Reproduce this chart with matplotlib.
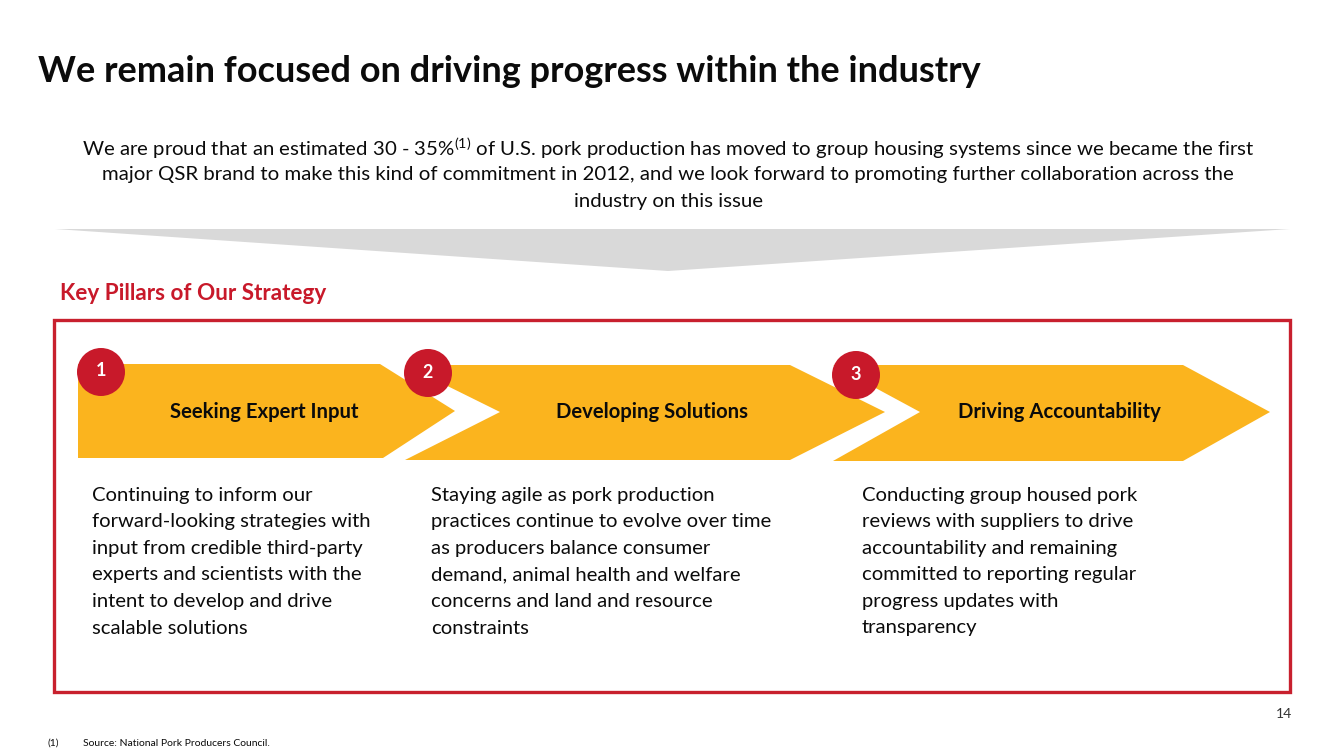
import matplotlib
matplotlib.use("Agg")
import matplotlib.pyplot as plt
from matplotlib.patches import Polygon, Circle, Rectangle

FONT = "Lato"
plt.rcParams["font.family"] = [FONT, "DejaVu Sans"]
plt.rcParams["mathtext.fontset"] = "custom"
plt.rcParams["mathtext.rm"] = FONT

ORANGE = "#fbb41e"
RED = "#c8192a"
BOX_RED = "#c8202e"
GREY = "#d9d9d9"
INK = "#0b0b0b"

TITLE = "We remain focused on driving progress within the industry"
INTRO_LINES = [
    r"We are proud that an estimated 30 - 35%$^{(1)}$ of U.S. pork production has moved to group housing systems since we became the first",
    "major QSR brand to make this kind of commitment in 2012, and we look forward to promoting further collaboration across the",
    "industry on this issue",
]
SECTION = "Key Pillars of Our Strategy"
PILLAR_NUMBERS = ["1", "2", "3"]
PILLAR_NAMES = ["Seeking Expert Input", "Developing Solutions", "Driving Accountability"]
PILLAR_TEXT = [
    ["Continuing to inform our", "forward-looking strategies with",
     "input from credible third-party", "experts and scientists with the",
     "intent to develop and drive", "scalable solutions"],
    ["Staying agile as pork production", "practices continue to evolve over time",
     "as producers balance consumer", "demand, animal health and welfare",
     "concerns and land and resource", "constraints"],
    ["Conducting group housed pork", "reviews with suppliers to drive",
     "accountability and remaining", "committed to reporting regular",
     "progress updates with", "transparency"],
]
PAGE = "14"
FOOTNOTE_MARK = "(1)"
FOOTNOTE = "Source: National Pork Producers Council."

fig = plt.figure(figsize=(13.33, 7.5), dpi=100)
ax = fig.add_axes([0, 0, 1, 1])
ax.set_xlim(0, 1333)
ax.set_ylim(750, 0)
ax.axis("off")

# title and intro
ax.text(38, 72, TITLE, fontsize=26, fontweight="bold", color=INK, va="center", ha="left")
for i, line in enumerate(INTRO_LINES):
    ax.text(668, 148 + i * 26.5, line, fontsize=14.7, color=INK, ha="center", va="center")

# grey funnel under the intro
ax.add_patch(Polygon([(55, 229), (1290, 229), (668, 271)], closed=True,
                     facecolor=GREY, edgecolor="none"))

ax.text(60, 294, SECTION, fontsize=16.2, fontweight="bold", color=RED, va="center", ha="left")

# outline box
ax.add_patch(Rectangle((54, 320), 1236, 372, facecolor="none", edgecolor=BOX_RED, linewidth=2.4))

# chevrons (first one is a plain pentagon)
shapes = [
    [(78, 364), (380, 364), (455, 411), (383, 458), (78, 458)],
    [(405, 365), (790, 365), (885, 412), (790, 460), (405, 460), (500, 412)],
    [(833, 365), (1183, 365), (1270, 412), (1183, 461), (833, 461), (920, 412)],
]
label_x = [264, 652, 1059]
circle_xy = [(101, 372), (428, 373), (856, 375)]
text_x = [92, 431, 862]

for shape in shapes:
    ax.add_patch(Polygon(shape, closed=True, facecolor=ORANGE, edgecolor="none"))

for num, name, lx, (cx, cy) in zip(PILLAR_NUMBERS, PILLAR_NAMES, label_x, circle_xy):
    ax.add_patch(Circle((cx, cy), 24, facecolor=RED, edgecolor="none", zorder=3))
    ax.text(cx, cy - 1, num, fontsize=13, fontweight="bold", color="white",
            ha="center", va="center", zorder=4)
    ax.text(lx, 412, name, fontsize=14.6, fontweight="bold", color=INK, ha="center", va="center")

for tx, lines in zip(text_x, PILLAR_TEXT):
    for j, line in enumerate(lines):
        ax.text(tx, 495 + j * 26.6, line, fontsize=14.6, color=INK, ha="left", va="center")

ax.text(1284, 714, PAGE, fontsize=10, color="#333333", ha="center", va="center")
ax.text(47, 743, FOOTNOTE_MARK, fontsize=7.5, color=INK, ha="left", va="center")
ax.text(83, 743, FOOTNOTE, fontsize=7.5, color=INK, ha="left", va="center")

fig.savefig("out.png", dpi=100, facecolor="white")
